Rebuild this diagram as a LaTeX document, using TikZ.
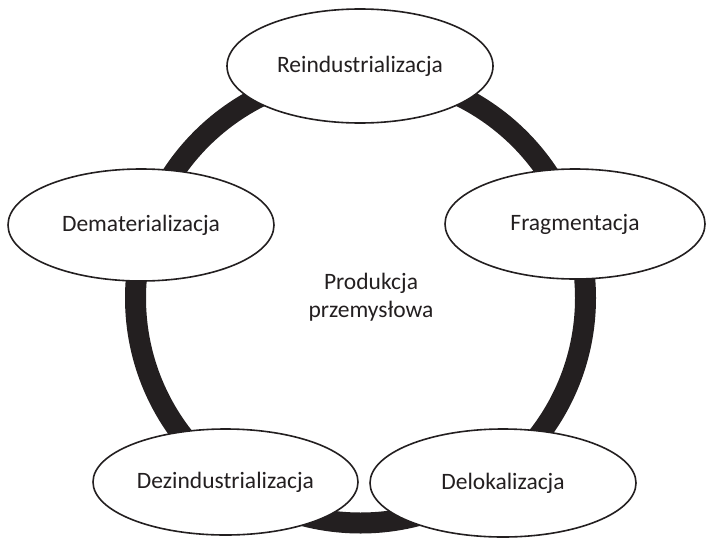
\documentclass[tikz,border=0pt]{standalone}
\usepackage{fontspec}
\setmainfont{Carlito}
\usetikzlibrary{shapes.geometric}
\definecolor{ink}{HTML}{231F20}
\begin{document}
\begin{tikzpicture}[x=1pt,y=-1pt,
  stage/.style={ellipse,draw=ink,line width=1.6pt,fill=white,inner sep=0pt,
    font=\fontsize{23.5}{28}\selectfont,text=ink},
  ring/.style={line width=21pt,draw=ink}]
\useasboundingbox (0,0) rectangle (706,538);
\coordinate (c) at (360.5,298);
\draw[ring] (c) circle[radius=225];
\node[stage,minimum width=266pt,minimum height=114pt] (re) at (360,66) {Reindustrializacja};
\node[stage,minimum width=266pt,minimum height=112pt] (dm) at (141,225) {Dematerializacja};
\node[stage,minimum width=260pt,minimum height=110pt] (fr) at (575,224) {Fragmentacja};
\node[stage,minimum width=265pt,minimum height=106pt] (dz) at (225.5,482) {Dezindustrializacja};
\node[stage,minimum width=266pt,minimum height=108pt] (dl) at (503,483) {Delokalizacja};
\node[align=center,font=\fontsize{23.5}{28}\selectfont,text=ink] (pp) at (371,297) {Produkcja\\przemysłowa};
\end{tikzpicture}
\end{document}
